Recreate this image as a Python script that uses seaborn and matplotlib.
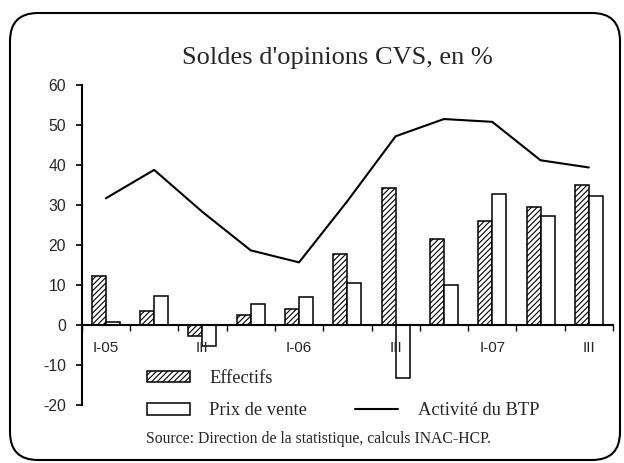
import numpy as np
import pandas as pd
import seaborn as sns
import matplotlib.pyplot as plt
from matplotlib.patches import Patch, FancyBboxPatch
from matplotlib.lines import Line2D
from matplotlib.transforms import IdentityTransform

quarters = ["I-05", "II-05", "III-05", "IV-05", "I-06", "II-06", "III-06",
            "IV-06", "I-07", "II-07", "III-07"]
tick_labels = ["I-05", "", "III", "", "I-06", "", "III", "", "I-07", "", "III"]
effectifs = [12.2, 3.6, -2.7, 2.6, 4.1, 17.8, 34.2, 21.6, 26.1, 29.6, 35.1]
prix_vente = [0.9, 7.4, -5.2, 5.3, 7.0, 10.5, -13.1, 10.0, 32.9, 27.4, 32.2]
activite_btp = [31.7, 38.8, 28.3, 18.7, 15.7, 31.0, 47.2, 51.5, 50.8, 41.2, 39.4]

sns.set_style("white")
plt.rcParams["font.family"] = ["Liberation Sans", "DejaVu Sans"]
plt.rcParams["axes.unicode_minus"] = False
plt.rcParams["hatch.linewidth"] = 0.8
serif = ["Liberation Serif", "DejaVu Serif"]

bars = pd.DataFrame({
    "trimestre": quarters * 2,
    "valeur": effectifs + prix_vente,
    "serie": ["Effectifs"] * len(quarters) + ["Prix de vente"] * len(quarters),
})

fig = plt.figure(figsize=(6.24, 4.63), dpi=100)
ax = fig.add_axes([0.1309, 0.1246, 0.8515, 0.6918])

sns.barplot(data=bars, x="trimestre", y="valeur", hue="serie", order=quarters,
            palette=["white", "white"], width=0.58, edgecolor="black",
            linewidth=1.1, legend=False, ax=ax)
for bar in ax.containers[0]:
    bar.set_hatch("//////")

sns.lineplot(x=np.arange(len(quarters)), y=activite_btp, sort=False,
             color="black", lw=1.5, ax=ax)

# category labels sit on the zero line, drawn over the negative bars
ax.set_axisbelow(False)
ax.set_xlim(-0.5, 10.5)
ax.set_ylim(-20, 60)
ax.set_yticks(range(-20, 61, 10))
ax.set_xticks(np.arange(-0.5, 11, 1), labels=[""] * 12)
ax.set_xticks(range(len(quarters)), labels=tick_labels, minor=True)
ax.tick_params(axis="x", which="major", direction="out", length=4, width=1,
               bottom=True, color="black")
ax.tick_params(axis="x", which="minor", length=0, pad=11, labelsize=11)
ax.tick_params(axis="y", direction="out", length=4.3, width=1.2, pad=7,
               labelsize=11.3, left=True, color="black")
ax.spines["bottom"].set_position(("data", 0))
for side in ["top", "right"]:
    ax.spines[side].set_visible(False)
for side in ["left", "bottom"]:
    ax.spines[side].set_linewidth(1.5)
    ax.spines[side].set_color("black")
ax.set_xlabel("")
ax.set_ylabel("")

handles = [
    Patch(facecolor="white", edgecolor="black", hatch="//////", lw=1.1),
    Patch(facecolor="white", edgecolor="black", lw=1.1),
    Line2D([], [], color="none"),
    Line2D([], [], color="black", lw=1.5),
]
labels = ["Effectifs", "Prix de vente", "", "Activité du BTP"]
ax.legend(handles, labels, ncol=2, loc="upper left", frameon=False,
          bbox_to_anchor=(147 / 624, 1 - 370 / 463), bbox_transform=fig.transFigure,
          borderpad=0, borderaxespad=0, handlelength=2.33, handleheight=0.6,
          handletextpad=1.05, labelspacing=0.83, columnspacing=2.6,
          prop={"family": serif, "size": 13.3})

fig.text(0.54, 0.875, "Soldes d'opinions CVS, en %", family=serif, size=19,
         ha="center", va="center")
fig.text(0.511, 0.052, "Source: Direction de la statistique, calculs INAC-HCP.",
         family=serif, size=11.3, ha="center", va="center")

fig.patches.append(FancyBboxPatch((10, 3), 610, 447,
                                  boxstyle="round,pad=0,rounding_size=28",
                                  transform=IdentityTransform(), fill=False,
                                  edgecolor="black", lw=1.5, figure=fig))

fig.savefig("out.png", dpi=100)
